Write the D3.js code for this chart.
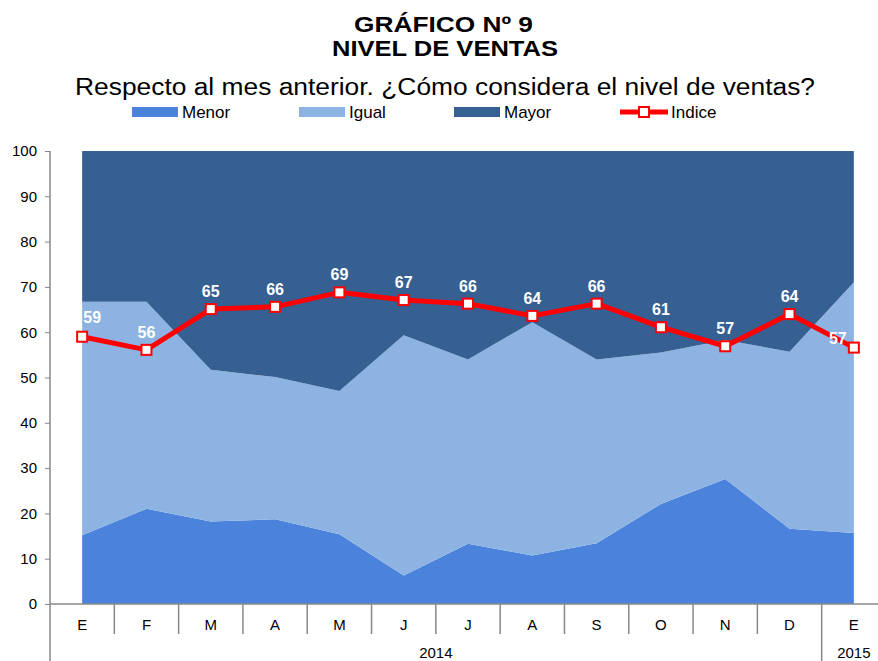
<!DOCTYPE html>
<meta charset="utf-8">
<script src="https://d3js.org/d3.v7.min.js"></script>
<style>
  body { margin: 0; background: #fff; }
  text { font-family: Arial, "Liberation Sans", sans-serif; }
</style>
<body>
<div id="chart"></div>
<script>
// months shown on the axis, and the year group each belongs to
const months = ["E", "F", "M", "A", "M", "J", "J", "A", "S", "O", "N", "D", "E"];
const years = [{label: "2014", from: 0, to: 11}, {label: "2015", from: 12, to: 12}];

// series values (percent of answers)
const menor = [15.2, 21.0, 18.2, 18.7, 15.4, 6.3, 13.3, 10.7, 13.4, 22.1, 27.6, 16.6, 15.7];
const igual = [51.5, 45.7, 33.5, 31.4, 31.6, 53.0, 40.7, 51.5, 40.6, 33.4, 30.7, 39.1, 55.3];
const mayor = [33.3, 33.3, 48.3, 49.9, 53.0, 40.7, 46.0, 37.8, 46.0, 44.5, 41.7, 44.3, 29.0];
const indice = [59.0, 56.1, 65.1, 65.6, 68.8, 67.1, 66.3, 63.6, 66.3, 61.1, 56.9, 64.0, 56.6];

const yTicks = [0, 10, 20, 30, 40, 50, 60, 70, 80, 90, 100];
const seriesNames = ["Menor", "Igual", "Mayor"];
const colors = {Menor: "#4a82dc", Igual: "#8db3e2", Mayor: "#366092"};

const W = 878, H = 661;
const mLeft = 50, mRight = 886, mTop = 151, mBottom = 604;

const svg = d3.select("#chart").append("svg")
  .attr("width", W).attr("height", H);

// titles (stretched a bit like the original)
svg.append("text").attr("x", 354).attr("y", 32)
  .attr("textLength", 179).attr("lengthAdjust", "spacingAndGlyphs")
  .style("font-size", "22px").style("font-weight", "bold").text("GRÁFICO Nº 9");
svg.append("text").attr("x", 332).attr("y", 56)
  .attr("textLength", 226).attr("lengthAdjust", "spacingAndGlyphs")
  .style("font-size", "22px").style("font-weight", "bold").text("NIVEL DE VENTAS");
svg.append("text").attr("x", 75).attr("y", 95)
  .attr("textLength", 740).attr("lengthAdjust", "spacingAndGlyphs")
  .style("font-size", "23px").text("Respecto al mes anterior. ¿Cómo considera el nivel de ventas?");

// stacked data
const rows = months.map((m, i) => ({i: i, Menor: menor[i], Igual: igual[i], Mayor: mayor[i]}));
const stacked = d3.stack().keys(seriesNames)(rows);

const x = d3.scaleBand().domain(d3.range(months.length)).range([mLeft, mRight]).padding(0);
const cx = i => x(i) + x.bandwidth() / 2;
const y = d3.scaleLinear().domain([0, 100]).range([mBottom, mTop]);

const area = d3.area()
  .x(d => cx(d.data.i))
  .y0(d => y(d[0]))
  .y1(d => y(d[1]));

svg.append("g").selectAll("path")
  .data(stacked)
  .join("path")
    .attr("d", area)
    .attr("fill", d => colors[d.key]);

// y axis
const yAxis = svg.append("g")
  .attr("transform", `translate(${mLeft},0)`)
  .call(d3.axisLeft(y).tickValues(yTicks).tickSize(5).tickSizeOuter(0).tickPadding(8));
yAxis.select(".domain").remove();
yAxis.selectAll("line").attr("stroke", "#888");
yAxis.selectAll("text").style("font-size", "15px").attr("fill", "#000")
  .style("font-family", "Arial, 'Liberation Sans', sans-serif");

svg.append("line").attr("x1", mLeft).attr("x2", mLeft).attr("y1", mTop).attr("y2", H)
  .attr("stroke", "#888").attr("stroke-width", 1.5);

// x axis line
svg.append("line").attr("x1", mLeft).attr("x2", W).attr("y1", mBottom).attr("y2", mBottom)
  .attr("stroke", "#888").attr("stroke-width", 1.5);

// month separators (longer where a year group ends)
const yearEnds = years.map(g => g.to + 1);
svg.append("g").selectAll("line")
  .data(d3.range(1, months.length))
  .join("line")
    .attr("x1", i => x(i)).attr("x2", i => x(i))
    .attr("y1", mBottom)
    .attr("y2", i => yearEnds.includes(i) ? H : mBottom + 30)
    .attr("stroke", "#888").attr("stroke-width", 1.5);

svg.append("g").selectAll("text")
  .data(months)
  .join("text")
    .attr("x", (d, i) => cx(i))
    .attr("y", 630)
    .attr("text-anchor", "middle")
    .style("font-size", "15px")
    .text(d => d);

svg.append("g").selectAll("text")
  .data(years)
  .join("text")
    .attr("x", g => (x(g.from) + x(g.to) + x.bandwidth()) / 2)
    .attr("y", 658)
    .attr("text-anchor", "middle")
    .style("font-size", "15px")
    .text(g => g.label);

// indice line
const line = d3.line().x((d, i) => cx(i)).y(d => y(d));
svg.append("path")
  .datum(indice)
  .attr("d", line)
  .attr("fill", "none")
  .attr("stroke", "#ff0000")
  .attr("stroke-width", 5)
  .attr("stroke-linejoin", "round");

svg.append("g").selectAll("rect")
  .data(indice)
  .join("rect")
    .attr("x", (d, i) => cx(i) - 5)
    .attr("y", d => y(d) - 5)
    .attr("width", 10).attr("height", 10)
    .attr("fill", "#fff")
    .attr("stroke", "#ff0000")
    .attr("stroke-width", 2);

const last = indice.length - 1;
svg.append("g").selectAll("text")
  .data(indice)
  .join("text")
    .attr("x", (d, i) => cx(i) + (i === 0 ? 10 : i === last ? -16 : 0))
    .attr("y", (d, i) => y(d) + (i === 0 ? -14 : i === last ? -4 : -12))
    .attr("text-anchor", "middle")
    .attr("fill", "#fff")
    .style("font-size", "16px")
    .style("font-weight", "bold")
    .text(d => Math.round(d));

// legend
const legendX = [132, 299, 454, 620];
const legend = svg.append("g");
seriesNames.forEach((name, k) => {
  legend.append("rect").attr("x", legendX[k]).attr("y", 107)
    .attr("width", 46).attr("height", 10).attr("fill", colors[name]);
  legend.append("text").attr("x", legendX[k] + 50).attr("y", 118)
    .style("font-size", "17px").text(name);
});
legend.append("line").attr("x1", legendX[3]).attr("x2", legendX[3] + 48)
  .attr("y1", 112).attr("y2", 112).attr("stroke", "#ff0000").attr("stroke-width", 5);
legend.append("rect").attr("x", legendX[3] + 19).attr("y", 107)
  .attr("width", 10).attr("height", 10)
  .attr("fill", "#fff").attr("stroke", "#ff0000").attr("stroke-width", 2);
legend.append("text").attr("x", legendX[3] + 51).attr("y", 118)
  .style("font-size", "17px").text("Indice");
</script>
</body>
